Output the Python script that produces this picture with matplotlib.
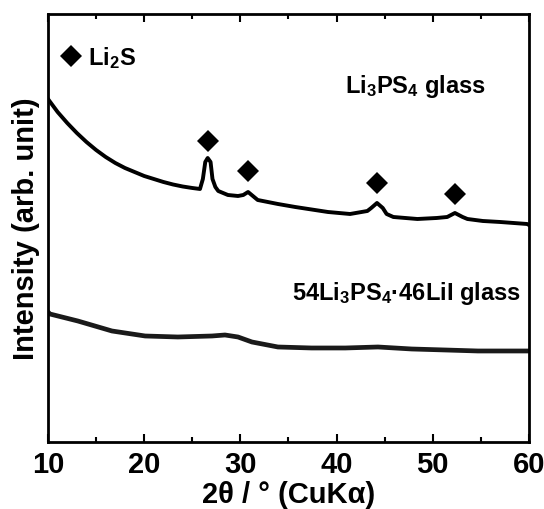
import numpy as np
import matplotlib
matplotlib.use('Agg')
import matplotlib.pyplot as plt
from matplotlib import font_manager

names = set(f.name for f in font_manager.fontManager.ttflist)
fam = 'Liberation Sans Narrow' if 'Liberation Sans Narrow' in names else 'Liberation Sans'

plt.rcParams['font.family'] = [fam, 'DejaVu Sans']
plt.rcParams['font.weight'] = 'bold'
plt.rcParams['mathtext.fontset'] = 'custom'
plt.rcParams['mathtext.rm'] = fam + ':bold'
plt.rcParams['mathtext.it'] = fam + ':bold'
plt.rcParams['mathtext.default'] = 'rm'

######## Li3PS4 glass ########
x_li3ps4 = [10.0, 11.0, 12.0, 13.0, 14.0, 15.0, 16.0, 17.0, 18.0, 19.0, 20.0,
            21.0, 22.0, 23.0, 24.0, 25.0, 25.8,
            26.1, 26.35, 26.6, 26.9, 27.1, 27.4, 27.7, 28.7, 29.75, 30.3, 30.8, 31.3,
            31.8, 33.9, 35.7, 39.1, 41.4, 43.2, 43.6, 44.2, 44.8, 45.2, 45.9, 48.4,
            50.4, 51.5, 52.3, 53.1, 53.6, 55.2, 57.0, 59.8, 60.0]
y_li3ps4 = [343, 330, 319, 309, 300, 292, 285, 279, 274, 270, 266,
            263, 260, 257.5, 255.5, 254, 253,
            263, 280, 284, 280, 263, 255, 251, 247, 246, 247, 250, 246,
            242, 238, 235, 230, 228, 231, 234, 239, 234, 228, 225, 223,
            224, 225, 229, 225, 223, 221, 220, 218, 217]

######## 54Li3PS4-46LiI glass ########
x_lii = [10.0, 10.2, 13.1, 16.65, 20.1, 23.5, 27.05, 28.4, 29.75, 31.2, 33.9,
         37.4, 40.9, 44.3, 47.8, 51.3, 54.7, 59.6, 60.0]
y_lii = [130, 128, 121, 111, 106, 105, 106, 107, 105, 100, 95,
         94, 94, 95, 93, 92, 91, 91, 91]

######## Li2S reflections ########
x_li2s = [26.6, 30.8, 44.2, 52.3]
y_li2s = [301, 271, 259, 248]

fig = plt.figure(figsize=(5.44, 5.10), dpi=100)
ax = fig.add_axes([0.0882, 0.1314, 0.8842, 0.8392])

ax.plot(x_li3ps4, y_li3ps4, color='k', lw=2.8, solid_joinstyle='round')
ax.plot(x_lii, y_lii, color='#1a1a1a', lw=3.4, solid_joinstyle='round')
ax.plot(x_li2s, y_li2s, 'D', color='k', ms=11, mew=0)

# legend-like marker
ax.plot([12.4], [386], 'D', color='k', ms=11, mew=0)
ax.text(14.2, 378, r'Li$_2$S', fontsize=17, fontweight='bold', va='baseline')

ax.text(40.9, 350, r'Li$_3$PS$_4$ glass', fontsize=17, fontweight='bold', va='baseline')
ax.text(35.4, 143, r'54Li$_3$PS$_4$·46LiI glass', fontsize=17, fontweight='bold',
        va='baseline')

ax.set_xlim(10, 60)
ax.set_ylim(0, 428)
ax.set_xticks([10, 20, 30, 40, 50, 60])
ax.set_xticks([15, 25, 35, 45, 55], minor=True)
ax.set_yticks([])
ax.tick_params(axis='x', which='both', direction='in', top=True, width=1.5,
               labelsize=21, pad=6)
ax.tick_params(axis='x', which='major', length=5.5)
ax.tick_params(axis='x', which='minor', length=3.5)
for s in ax.spines.values():
    s.set_linewidth(2.0)

ax.set_xlabel('2θ / ° (CuKα)', fontsize=21, fontweight='bold', labelpad=1)
ax.set_ylabel('Intensity (arb. unit)', fontsize=21, fontweight='bold', labelpad=6)

fig.savefig('out.png', dpi=100)
